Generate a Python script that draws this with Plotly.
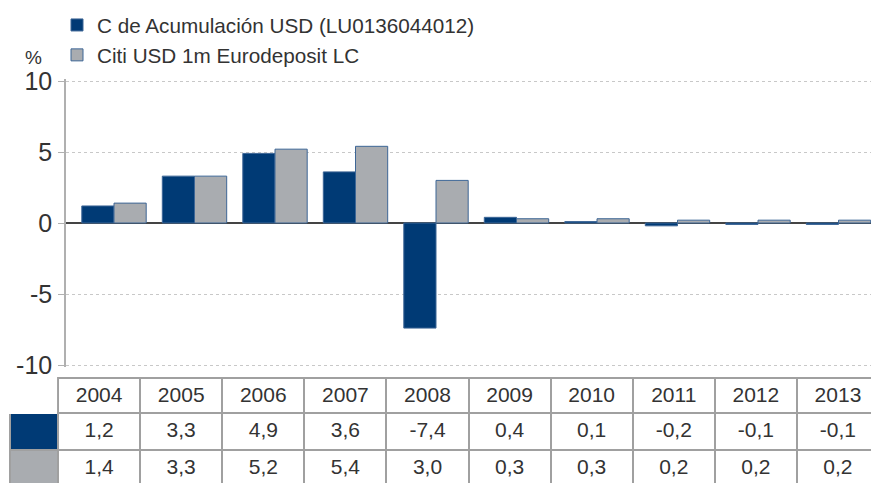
import plotly.graph_objects as go

years = ["2004", "2005", "2006", "2007", "2008", "2009", "2010", "2011", "2012", "2013"]
fund_name = "C de Acumulación USD (LU0136044012)"
bench_name = "Citi USD 1m Eurodeposit LC"
fund = [1.2, 3.3, 4.9, 3.6, -7.4, 0.4, 0.1, -0.2, -0.1, -0.1]
bench = [1.4, 3.3, 5.2, 5.4, 3.0, 0.3, 0.3, 0.2, 0.2, 0.2]
y_ticks = [-10, -5, 0, 5, 10]

C_FUND = "#003a75"
C_BENCH = "#a9acb0"
FONT = "Liberation Sans, Arial, sans-serif"
TXT = "#333333"

W, H = 879, 483
OFF = 8  # page offset of the figure (body margin)


def px(sx):  # screen x -> paper fraction
    return (sx - OFF) / W


def py(sy):  # screen y -> paper fraction
    return 1 - (sy - OFF) / H


ML, PT, PB, PR = 66, 81, 365, 879  # plot left, top (y=10), bottom (y=-10), right
EXT = 0.15  # small range padding so the +/-10 gridlines are drawn
ppu = (PB - PT) / 20.0

fig = go.Figure()
fig.add_trace(go.Bar(x=list(range(len(years))), y=fund, name=fund_name,
                     marker=dict(color=C_FUND, line=dict(color="#3d6696", width=1))))
fig.add_trace(go.Bar(x=list(range(len(years))), y=bench, name=bench_name,
                     marker=dict(color=C_BENCH, line=dict(color="#3d6696", width=1))))

fmt = lambda v: f"{v:.1f}".replace(".", ",")
line_col = "#a0a0a0"
fig.add_trace(go.Table(
    domain=dict(x=[px(10), px(PR)], y=[0, py(378)]),
    columnwidth=[48] + [82] * len(years),
    header=dict(values=[""] + years, height=35,
                fill=dict(color="white"),
                line=dict(color=["white"] + [line_col] * len(years), width=2),
                font=dict(family=FONT, size=21, color=TXT), align="center"),
    cells=dict(values=[["", ""]] + [[fmt(f), fmt(b)] for f, b in zip(fund, bench)],
               height=37,
               fill=dict(color=[[C_FUND, C_BENCH]] + [["white", "white"]] * len(years)),
               line=dict(color=line_col, width=2),
               font=dict(family=FONT, size=21, color=TXT), align="center"),
))

span = (PR - ML) / 80.5
x0 = -(114 - ML) / 80.5
fig.update_layout(
    width=W, height=H,
    margin=dict(l=0, r=0, t=0, b=0, pad=0, autoexpand=False),
    paper_bgcolor="white", plot_bgcolor="white",
    barmode="group", bargap=0.2, bargroupgap=0,
    font=dict(family=FONT, color=TXT),
    showlegend=True,
    legend=dict(x=px(57), y=py(5), xanchor="left", yanchor="top",
                font=dict(family=FONT, size=20.7, color=TXT),
                bgcolor="rgba(0,0,0,0)", tracegroupgap=2, itemwidth=30),
    xaxis=dict(domain=[px(ML), px(PR)], range=[x0, x0 + span], showticklabels=False,
               showgrid=False, zeroline=False, showline=False, ticks=""),
    yaxis=dict(domain=[py(PB + EXT * ppu), py(PT - EXT * ppu)],
               range=[-10 - EXT, 10 + EXT],
               tickvals=y_ticks, ticktext=[str(t) for t in y_ticks],
               showgrid=True, gridcolor="#c8c8c8", griddash="3px,3px", gridwidth=1,
               zeroline=True, zerolinecolor="#444444", zerolinewidth=1.5,
               showline=True, linecolor="#b0b0b0", linewidth=1.5,
               ticks="outside", ticklen=6, tickcolor="#b0b0b0",
               ticklabelstandoff=1, automargin=False,
               tickfont=dict(family=FONT, size=25, color=TXT)),
    annotations=[dict(text="%", xref="paper", yref="paper", x=px(33),
                      y=py(57), xanchor="center", yanchor="middle",
                      showarrow=False, font=dict(family=FONT, size=19, color=TXT))],
)

fig.write_html("out.html")
